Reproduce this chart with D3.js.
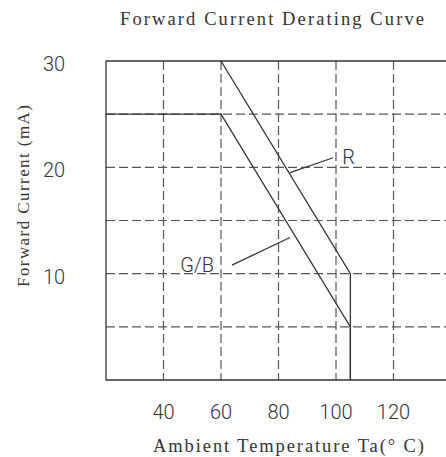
<!DOCTYPE html>
<html>
<head>
<meta charset="utf-8">
<script src="https://cdn.jsdelivr.net/npm/d3@7"></script>
<style>
  body { margin: 0; background: #fff; }
  svg { display: block; }
  .tick-label { font-family: Roboto, "DejaVu Sans", sans-serif; font-weight: 300; font-size: 20px; fill: #333; }
  .mono { font-family: "Liberation Serif", "DejaVu Serif", serif; fill: #333; }
</style>
</head>
<body>
<div id="chart"></div>
<script>
// Chart data
var xTicks = [40, 60, 80, 100, 120];
var yTicks = [10, 20, 30];
var yGrid = [5, 10, 15, 20, 25];
var gbTemp = [20, 60, 105, 105];
var gbCurrent = [25, 25, 5, 0];
var rTemp = [60, 105, 105];
var rCurrent = [30, 10, 0];

var svgWidth = 446;
var svgHeight = 457;

var svg = d3.select("#chart")
  .append("svg")
  .attr("width", svgWidth)
  .attr("height", svgHeight);

// plot box runs past the right edge of the window
var xScale = d3.scaleLinear().domain([20, 140]).range([106, 451]);
var yScale = d3.scaleLinear().domain([0, 30]).range([380, 61]);

var line = d3.line()
  .x(d => xScale(d[0]))
  .y(d => yScale(d[1]));

// dashed grid
svg.append("g")
  .selectAll("line")
  .data(xTicks)
  .enter()
  .append("line")
  .attr("x1", d => xScale(d))
  .attr("x2", d => xScale(d))
  .attr("y1", yScale(30))
  .attr("y2", yScale(0))
  .attr("stroke", "#555")
  .attr("stroke-width", 1.2)
  .attr("stroke-dasharray", "9,4");

svg.append("g")
  .selectAll("line")
  .data(yGrid)
  .enter()
  .append("line")
  .attr("x1", xScale(20))
  .attr("x2", xScale(140))
  .attr("y1", d => yScale(d))
  .attr("y2", d => yScale(d))
  .attr("stroke", "#555")
  .attr("stroke-width", 1.2)
  .attr("stroke-dasharray", "9,4");

// frame (left, top, bottom)
svg.append("path")
  .attr("d", line([[140, 30], [20, 30], [20, 0], [140, 0]]))
  .attr("fill", "none")
  .attr("stroke", "#333")
  .attr("stroke-width", 1.3);

// derating curves
var gbPoints = gbTemp.map((t, i) => [t, gbCurrent[i]]);
var rPoints = rTemp.map((t, i) => [t, rCurrent[i]]);

svg.append("path")
  .attr("d", line(gbPoints))
  .attr("fill", "none")
  .attr("stroke", "#333")
  .attr("stroke-width", 1.3);

svg.append("path")
  .attr("d", line(rPoints))
  .attr("fill", "none")
  .attr("stroke", "#333")
  .attr("stroke-width", 1.3);

// callouts
svg.append("path")
  .attr("d", line([[84, 19.5], [99, 20.9]]))
  .attr("stroke", "#333")
  .attr("stroke-width", 1.2);
svg.append("text")
  .attr("class", "tick-label")
  .attr("x", xScale(102.2))
  .attr("y", yScale(21))
  .attr("dy", "0.35em")
  .text("R");

svg.append("path")
  .attr("d", line([[63.8, 10.8], [84, 13.4]]))
  .attr("stroke", "#333")
  .attr("stroke-width", 1.2);
svg.append("text")
  .attr("class", "tick-label")
  .attr("x", xScale(45.8))
  .attr("y", yScale(10.8))
  .attr("dy", "0.35em")
  .text("G/B");

// tick labels
svg.append("g")
  .selectAll("text")
  .data(xTicks)
  .enter()
  .append("text")
  .attr("class", "tick-label")
  .attr("x", d => xScale(d))
  .attr("y", 412)
  .attr("dy", "0.35em")
  .attr("text-anchor", "middle")
  .text(d => d);

svg.append("g")
  .selectAll("text")
  .data(yTicks)
  .enter()
  .append("text")
  .attr("class", "tick-label")
  .attr("x", 43)
  .attr("y", d => yScale(d) + 3)
  .attr("dy", "0.35em")
  .text(d => d);

// titles, stretched to the spaced look of the original
svg.append("text")
  .attr("class", "mono")
  .attr("x", 120)
  .attr("y", 25)
  .attr("textLength", 304)
  .attr("lengthAdjust", "spacing")
  .style("font-size", "18.5px")
  .text("Forward Current Derating Curve");

svg.append("text")
  .attr("class", "mono")
  .attr("x", 153)
  .attr("y", 452)
  .attr("textLength", 271)
  .attr("lengthAdjust", "spacing")
  .style("font-size", "18.5px")
  .text("Ambient Temperature Ta(° C)");

svg.append("text")
  .attr("class", "mono")
  .attr("transform", "translate(29, 287) rotate(-90)")
  .attr("textLength", 182)
  .attr("lengthAdjust", "spacing")
  .style("font-size", "17px")
  .text("Forward Current (mA)");
</script>
</body>
</html>
